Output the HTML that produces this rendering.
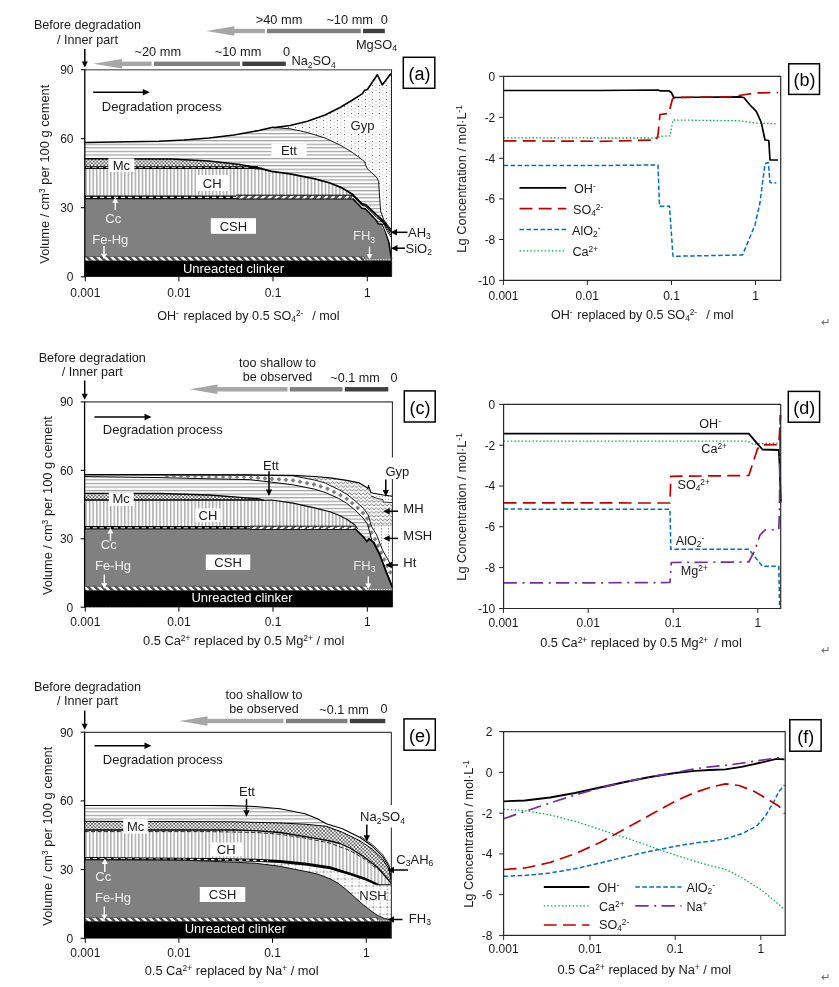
<!DOCTYPE html>
<html><head><meta charset="utf-8"><title>Figure</title>
<style>html,body{margin:0;padding:0;background:#fff;}svg{display:block;}</style></head>
<body>
<svg width="839" height="987" viewBox="0 0 839 987" font-family='"Liberation Sans", sans-serif'>
<defs>
<pattern id="hl" width="8" height="3.57" patternUnits="userSpaceOnUse"><rect width="8" height="3.57" fill="#fff"/><rect y="1.15" width="8" height="0.85" fill="#777"/></pattern>
<pattern id="vl" width="3.52" height="8" patternUnits="userSpaceOnUse"><rect width="3.52" height="8" fill="#fff"/><rect x="1.2" width="0.95" height="8" fill="#7c7c7c"/></pattern>
<pattern id="ck" width="3.57" height="3.57" patternUnits="userSpaceOnUse"><rect width="3.57" height="3.57" fill="#fff"/><rect width="1.785" height="1.785" fill="#666"/><rect x="1.785" y="1.785" width="1.785" height="1.785" fill="#666"/></pattern>
<pattern id="dg" width="7" height="7" patternUnits="userSpaceOnUse"><rect width="7" height="7" fill="#fff"/><path d="M-3.5,0 L0,0 L7,7 L3.5,7 Z M3.5,0 L7,0 L10.5,3.5 L10.5,7 Z M-3.5,3.5 L0,7 L-3.5,7 Z" fill="#4c4c4c"/></pattern>
<pattern id="dg2" width="7" height="7" patternUnits="userSpaceOnUse" patternTransform="scale(-1,1)"><rect width="7" height="7" fill="#fff"/><path d="M-3.5,0 L0,0 L7,7 L3.5,7 Z M3.5,0 L7,0 L10.5,3.5 L10.5,7 Z M-3.5,3.5 L0,7 L-3.5,7 Z" fill="#555"/></pattern>
<pattern id="dt" width="7" height="7" patternUnits="userSpaceOnUse"><rect width="7" height="7" fill="#fff"/><rect x="1" y="1" width="1" height="1" fill="#6a6a6a"/><rect x="4.5" y="2.75" width="1" height="1" fill="#a8a8a8"/><rect x="1" y="4.5" width="1" height="1" fill="#a8a8a8"/><rect x="4.5" y="6.2" width="1" height="0.8" fill="#bbb"/><rect x="4.5" y="0" width="1" height="0.3" fill="#bbb"/></pattern>
<pattern id="dt2" width="3" height="3" patternUnits="userSpaceOnUse"><rect width="3" height="3" fill="#fff"/><rect x="1" y="1" width="1" height="1" fill="#aaa"/></pattern>
<pattern id="zz" width="4.4" height="3.7" patternUnits="userSpaceOnUse"><rect width="4.4" height="3.7" fill="#fff"/><path d="M-0.2,3.1 L2.2,0.7 L4.6,3.1" fill="none" stroke="#5e5e5e" stroke-width="0.85"/></pattern>
<pattern id="dm" width="5.2" height="5.2" patternUnits="userSpaceOnUse"><rect width="5.2" height="5.2" fill="#fff"/><path d="M2.6,0.3 L4.9,2.6 L2.6,4.9 L0.3,2.6 Z" fill="#808080"/></pattern>
<pattern id="ms" width="7" height="3" patternUnits="userSpaceOnUse"><rect width="7" height="3" fill="#fff"/><rect x="3" y="0" width="1" height="1.5" fill="#9a9a9a"/></pattern>
<pattern id="gr" x="6.15" y="4.35" width="7.05" height="7.05" patternUnits="userSpaceOnUse"><rect width="7.05" height="7.05" fill="#fff"/><path d="M0,0.5 H7.05 M0.5,0 V7.05" stroke="#999" stroke-width="0.9" stroke-dasharray="1.6 1.4"/></pattern>
<pattern id="cc" width="7" height="3" patternUnits="userSpaceOnUse"><rect width="7" height="3" fill="#000"/><rect x="0.5" y="1" width="4.5" height="1" fill="#fff"/></pattern>
</defs>
<rect width="839" height="987" fill="#fff"/>
<polygon points="84.8,142.5 159.0,141.3 184.0,140.0 209.0,138.0 234.0,135.0 259.0,130.5 272.8,127.3 274.5,127.6 290.0,125.5 307.5,121.3 325.0,115.0 340.0,107.5 352.5,100.0 362.5,93.6 364.6,90.2 367.4,89.5 377.3,74.7 382.3,84.9 390.5,74.0 391.6,75.5 391.6,276.8 84.8,276.8" fill="url(#dt)" stroke="none" stroke-width="1" />
<polygon points="84.8,142.5 159.0,141.3 184.0,140.0 209.0,138.0 234.0,135.0 259.0,130.5 272.8,127.3 274.5,127.6 290.0,128.8 307.5,132.5 325.0,138.0 340.0,145.0 352.5,152.5 362.5,160.0 364.6,161.8 367.0,168.4 376.8,177.5 378.6,181.5 380.6,211.0 383.8,220.0 391.6,230.0 391.6,276.8 84.8,276.8" fill="url(#hl)" stroke="none" stroke-width="1" />
<polygon points="84.8,158.8 171.5,159.0 209.0,161.0 240.0,164.5 262.0,168.5 262.0,168.8 262.0,276.8 84.8,276.8" fill="url(#ck)" stroke="none" stroke-width="1" />
<polygon points="84.8,168.3 196.5,168.3 255.0,168.3 262.0,168.8 271.5,171.3 290.0,173.8 315.0,178.8 330.0,183.0 341.3,187.6 352.0,194.0 362.0,204.0 365.5,204.6 376.8,215.2 383.2,221.0 391.6,232.3 391.6,276.8 84.8,276.8" fill="url(#vl)" stroke="none" stroke-width="1" />
<polygon points="84.8,195.6 352.5,195.6 362.0,205.5 365.5,206.2 376.8,217.5 383.2,222.5 391.6,236.0 391.6,276.8 84.8,276.8" fill="#fff" stroke="none" stroke-width="1" />
<polygon points="84.8,198.6 352.7,198.6 362.0,208.2 365.5,208.9 376.8,221.0 378.2,223.8 383.2,224.5 388.9,242.2 390.3,252.0 391.6,259.2 391.6,276.8 84.8,276.8" fill="#808080" stroke="none" stroke-width="1" />
<rect x="84.8" y="256.6" width="279.2" height="4.1" fill="url(#dg)" stroke="none" stroke-width="1"/>
<polyline points="84.8,256.6 364.0,256.6" fill="none" stroke="#555" stroke-width="0.8" stroke-linejoin="round" />
<polyline points="364.0,256.6 364.0,259.5" fill="none" stroke="#555" stroke-width="0.8" stroke-linejoin="round" />
<polyline points="364.0,259.7 391.6,259.7" fill="none" stroke="#ddd" stroke-width="1" stroke-dasharray="1.5 1.2" stroke-linejoin="round" />
<rect x="84.8" y="260.7" width="307.3" height="16.1" fill="#000" stroke="none" stroke-width="1"/>
<polyline points="274.5,127.6 290.0,128.8 307.5,132.5 325.0,138.0 340.0,145.0 352.5,152.5 362.5,160.0 364.6,161.8 367.0,168.4 376.8,177.5 378.6,181.5 380.6,211.0 383.8,220.0 391.6,230.0" fill="none" stroke="#000" stroke-width="0.9" stroke-linejoin="round" />
<polyline points="84.8,158.8 171.5,159.0 209.0,161.0 240.0,164.5 262.0,168.5" fill="none" stroke="#000" stroke-width="1.4" stroke-linejoin="round" />
<polyline points="84.8,167.6 258.0,167.6" fill="none" stroke="#000" stroke-width="2.7" stroke-linejoin="round" />
<polyline points="85.8,167.6 250.0,167.6" fill="none" stroke="#fff" stroke-width="0.8" stroke-dasharray="4.2 2.4" stroke-linejoin="round" />
<polyline points="255.0,168.3 262.0,168.8 271.5,171.3 290.0,173.8 315.0,178.8 330.0,183.0 341.3,187.6 352.0,194.0 362.0,204.0 365.5,204.6 376.8,215.2 383.2,221.0 391.6,232.3" fill="none" stroke="#000" stroke-width="1.8" stroke-linejoin="round" />
<polyline points="84.8,197.3 236.0,197.3" fill="none" stroke="#000" stroke-width="3.8" stroke-linejoin="round" />
<polyline points="85.8,197.4 236.0,197.4" fill="none" stroke="#fff" stroke-width="1.1" stroke-dasharray="4.4 2.6" stroke-linejoin="round" />
<polygon points="236.0,195.2 352.5,195.2 352.5,199.0 236.0,199.0" fill="url(#dg2)" stroke="none" stroke-width="1" />
<polyline points="236.0,195.2 352.5,195.2" fill="none" stroke="#000" stroke-width="1" stroke-linejoin="round" />
<polyline points="236.0,199.0 352.7,199.0" fill="none" stroke="#000" stroke-width="1" stroke-linejoin="round" />
<polyline points="352.5,195.6 362.0,205.5 365.5,206.2 376.8,217.5 383.2,222.5 391.6,236.0" fill="none" stroke="#000" stroke-width="1.0" stroke-linejoin="round" />
<polyline points="352.7,198.6 362.0,208.2 365.5,208.9 376.8,221.0 378.2,223.8 383.2,224.5 388.9,242.2 390.3,252.0 391.6,259.2" fill="none" stroke="#000" stroke-width="1.6" stroke-linejoin="round" />
<polyline points="378.2,221.5 383.2,222.0 387.0,231.0 391.6,238.0" fill="none" stroke="#000" stroke-width="0.8" stroke-linejoin="round" />
<polyline points="383.2,224.5 388.0,236.0 391.6,246.0" fill="none" stroke="#fff" stroke-width="0.9" stroke-linejoin="round" />
<polyline points="84.8,142.5 159.0,141.3 184.0,140.0 209.0,138.0 234.0,135.0 259.0,130.5 272.8,127.3 274.5,127.6 290.0,125.5 307.5,121.3 325.0,115.0 340.0,107.5 352.5,100.0 362.5,93.6 364.6,90.2 367.4,89.5 377.3,74.7 382.3,84.9 390.5,74.0 391.6,75.5" fill="none" stroke="#000" stroke-width="1.6" stroke-linejoin="round" />
<polyline points="84.8,69.8 392.1,69.8" fill="none" stroke="#787878" stroke-width="1.5" stroke-linejoin="round" />
<polyline points="391.5,69.7 391.5,276.8" fill="none" stroke="#222" stroke-width="1.0" stroke-linejoin="round" />
<polyline points="84.8,69.2 84.8,277.3" fill="none" stroke="#000" stroke-width="1.3" stroke-linejoin="round" />
<rect x="108.4" y="158.4" width="26.0" height="13.5" fill="#fff" stroke="none" stroke-width="1"/>
<text x="121.4" y="169.7" font-size="13.00" text-anchor="middle" fill="#1a1a1a" >Mc</text>
<rect x="196.5" y="175.0" width="31.5" height="16.0" fill="#fff" stroke="none" stroke-width="1"/>
<text x="212.2" y="187.7" font-size="13.00" text-anchor="middle" fill="#1a1a1a" >CH</text>
<rect x="210.8" y="218.2" width="45.2" height="15.6" fill="#fff" stroke="none" stroke-width="1"/>
<text x="233.4" y="230.7" font-size="13.00" text-anchor="middle" fill="#1a1a1a" >CSH</text>
<rect x="271.5" y="143.5" width="35.0" height="14.0" fill="#fff" stroke="none" stroke-width="1"/>
<text x="289.0" y="155.2" font-size="13.00" text-anchor="middle" fill="#1a1a1a" >Ett</text>
<rect x="345.0" y="118.0" width="35.0" height="14.0" fill="#fff" stroke="none" stroke-width="1"/>
<text x="362.5" y="129.7" font-size="13.00" text-anchor="middle" fill="#1a1a1a" >Gyp</text>
<text x="113.3" y="222.6" font-size="13.00" text-anchor="middle" fill="#f0f0f0" >Cc</text>
<line x1="115.3" y1="210.0" x2="115.3" y2="201.8" stroke="#fff" stroke-width="1.4"/>
<polygon points="115.3,197.3 118.3,202.8 112.3,202.8" fill="#fff" stroke="none" stroke-width="1" />
<text x="110.3" y="243.8" font-size="13.00" text-anchor="middle" fill="#f0f0f0" >Fe-Hg</text>
<line x1="104.0" y1="246.0" x2="104.0" y2="254.7" stroke="#fff" stroke-width="1.4"/>
<polygon points="104.0,259.2 101.0,253.7 107.0,253.7" fill="#fff" stroke="none" stroke-width="1" />
<text x="364.0" y="240.2" font-size="13.00" text-anchor="middle" fill="#e8e8e8" >FH<tspan dy="2.47" font-size="8.58">3</tspan><tspan dy="-2.47" font-size="13.00">&#8203;</tspan></text>
<line x1="369.5" y1="246.5" x2="369.5" y2="255.1" stroke="#fff" stroke-width="1.4"/>
<polygon points="369.5,259.6 366.5,254.1 372.5,254.1" fill="#fff" stroke="none" stroke-width="1" />
<text x="233.5" y="273.4" font-size="13.00" text-anchor="middle" fill="#fff" >Unreacted clinker</text>
<text x="101.8" y="111.4" font-size="13.00" text-anchor="start" fill="#1a1a1a" >Degradation process</text>
<line x1="93.2" y1="92.3" x2="143.8" y2="92.3" stroke="#000" stroke-width="1.6"/>
<polygon points="149.8,92.3 142.8,95.6 142.8,89.0" fill="#000" stroke="none" stroke-width="1" />
<line x1="407.5" y1="232.3" x2="396.0" y2="232.3" stroke="#000" stroke-width="1.5"/>
<polygon points="390.5,232.3 397.0,229.1 397.0,235.5" fill="#000" stroke="none" stroke-width="1" />
<text x="408.0" y="237.0" font-size="13.00" text-anchor="start" fill="#1a1a1a" >AH<tspan dy="2.47" font-size="8.58">3</tspan><tspan dy="-2.47" font-size="13.00">&#8203;</tspan></text>
<line x1="405.0" y1="248.2" x2="396.5" y2="248.2" stroke="#000" stroke-width="1.5"/>
<polygon points="391.0,248.2 397.5,245.0 397.5,251.4" fill="#000" stroke="none" stroke-width="1" />
<text x="405.5" y="253.0" font-size="13.00" text-anchor="start" fill="#1a1a1a" >SiO<tspan dy="2.47" font-size="8.58">2</tspan><tspan dy="-2.47" font-size="13.00">&#8203;</tspan></text>
<text x="87.5" y="29.4" font-size="12.60" text-anchor="middle" fill="#1a1a1a" >Before degradation</text>
<text x="87.5" y="43.5" font-size="12.60" text-anchor="middle" fill="#1a1a1a" >/ Inner part</text>
<line x1="84.8" y1="49.0" x2="84.8" y2="62.6" stroke="#000" stroke-width="1.5"/>
<polygon points="84.8,67.6 81.8,61.6 87.8,61.6" fill="#000" stroke="none" stroke-width="1" />
<polygon points="93.4,63.8 122.0,59.1 122.0,68.5" fill="#a6a6a6" stroke="none" stroke-width="1" />
<rect x="121.5" y="61.6" width="30.1" height="4.4" fill="#a6a6a6" stroke="none" stroke-width="1"/>
<rect x="154.0" y="61.6" width="86.0" height="4.4" fill="#7f7f7f" stroke="none" stroke-width="1"/>
<rect x="242.3" y="61.6" width="43.5" height="4.4" fill="#404040" stroke="none" stroke-width="1"/>
<text x="157.8" y="56.0" font-size="12.80" text-anchor="middle" fill="#1a1a1a" >~20 mm</text>
<text x="238.0" y="56.0" font-size="12.80" text-anchor="middle" fill="#1a1a1a" >~10 mm</text>
<text x="286.5" y="56.0" font-size="12.80" text-anchor="middle" fill="#1a1a1a" >0</text>
<text x="291.5" y="65.4" font-size="12.80" text-anchor="start" fill="#1a1a1a" >Na<tspan dy="2.43" font-size="8.45">2</tspan><tspan dy="-2.43" font-size="12.80">&#8203;</tspan>SO<tspan dy="2.43" font-size="8.45">4</tspan><tspan dy="-2.43" font-size="12.80">&#8203;</tspan></text>
<polygon points="206.3,31.0 234.3,26.3 234.3,35.7" fill="#a6a6a6" stroke="none" stroke-width="1" />
<rect x="234.0" y="28.8" width="30.9" height="4.4" fill="#a6a6a6" stroke="none" stroke-width="1"/>
<rect x="266.9" y="28.8" width="93.9" height="4.4" fill="#7f7f7f" stroke="none" stroke-width="1"/>
<rect x="363.0" y="28.8" width="21.8" height="4.4" fill="#404040" stroke="none" stroke-width="1"/>
<text x="279.0" y="23.6" font-size="12.80" text-anchor="middle" fill="#1a1a1a" >&gt;40 mm</text>
<text x="349.7" y="23.6" font-size="12.80" text-anchor="middle" fill="#1a1a1a" >~10 mm</text>
<text x="384.2" y="23.6" font-size="12.80" text-anchor="middle" fill="#1a1a1a" >0</text>
<text x="355.9" y="48.6" font-size="12.80" text-anchor="start" fill="#1a1a1a" >MgSO<tspan dy="2.43" font-size="8.45">4</tspan><tspan dy="-2.43" font-size="12.80">&#8203;</tspan></text>
<rect x="403.3" y="57.3" width="31.5" height="31.0" fill="#fff" stroke="#000" stroke-width="1.5"/>
<text x="419.4" y="80.0" font-size="18.00" text-anchor="middle" fill="#000" >(a)</text>
<polyline points="80.8,69.7 84.8,69.7" fill="none" stroke="#000" stroke-width="1" stroke-linejoin="round" />
<text x="73.5" y="74.0" font-size="12.00" text-anchor="end" fill="#1a1a1a" >90</text>
<polyline points="80.8,138.7 84.8,138.7" fill="none" stroke="#000" stroke-width="1" stroke-linejoin="round" />
<text x="73.5" y="143.0" font-size="12.00" text-anchor="end" fill="#1a1a1a" >60</text>
<polyline points="80.8,207.7 84.8,207.7" fill="none" stroke="#000" stroke-width="1" stroke-linejoin="round" />
<text x="73.5" y="212.0" font-size="12.00" text-anchor="end" fill="#1a1a1a" >30</text>
<polyline points="80.8,276.8 84.8,276.8" fill="none" stroke="#000" stroke-width="1" stroke-linejoin="round" />
<text x="73.5" y="281.1" font-size="12.00" text-anchor="end" fill="#1a1a1a" >0</text>
<polyline points="85.3,276.8 85.3,281.3" fill="none" stroke="#000" stroke-width="1" stroke-linejoin="round" />
<text x="85.3" y="297.3" font-size="12.00" text-anchor="middle" fill="#1a1a1a" >0.001</text>
<polyline points="178.9,276.8 178.9,281.3" fill="none" stroke="#000" stroke-width="1" stroke-linejoin="round" />
<text x="178.9" y="297.3" font-size="12.00" text-anchor="middle" fill="#1a1a1a" >0.01</text>
<polyline points="273.0,276.8 273.0,281.3" fill="none" stroke="#000" stroke-width="1" stroke-linejoin="round" />
<text x="273.0" y="297.3" font-size="12.00" text-anchor="middle" fill="#1a1a1a" >0.1</text>
<polyline points="367.3,276.8 367.3,281.3" fill="none" stroke="#000" stroke-width="1" stroke-linejoin="round" />
<text x="367.3" y="297.3" font-size="12.00" text-anchor="middle" fill="#1a1a1a" >1</text>
<text transform="translate(48.9 174.2) rotate(-90)" font-size="12.85" text-anchor="middle" fill="#1a1a1a">Volume / cm<tspan dy="-3.98" font-size="8.48">3</tspan><tspan dy="3.98" font-size="12.85">&#8203;</tspan> per 100 g cement</text>
<text x="248.4" y="319.5" font-size="12.60" text-anchor="middle" fill="#1a1a1a" >OH<tspan dy="-3.91" font-size="8.32">-</tspan><tspan dy="3.91" font-size="12.60">&#8203;</tspan><tspan dx="1.2">&#8203;</tspan> replaced by 0.5 SO<tspan dy="2.39" font-size="8.32">4</tspan><tspan dy="-2.39" font-size="12.60">&#8203;</tspan><tspan dy="-3.91" font-size="8.32">2-</tspan><tspan dy="3.91" font-size="12.60">&#8203;</tspan><tspan dx="5.5">&#8203;</tspan> / mol</text>
<polyline points="503.6,137.8 600.0,138.0 657.5,138.0 660.0,136.3 670.0,135.8 673.0,120.0 740.0,120.8 755.0,123.0 776.3,123.8" fill="none" stroke="#00b050" stroke-width="1.3" stroke-dasharray="1.5 2.1" stroke-linejoin="round" />
<polyline points="503.6,165.6 600.0,165.5 658.0,165.0 659.5,206.3 669.5,206.3 673.0,256.3 742.5,255.0 755.0,225.0 760.0,202.5 765.0,163.8 768.3,162.5 770.0,182.5 776.3,183.0" fill="none" stroke="#0070c0" stroke-width="1.5" stroke-dasharray="4.6 2.4" stroke-linejoin="round" />
<polyline points="503.6,90.5 600.0,90.5 657.5,90.0 660.0,90.8 668.8,90.8 671.3,92.5 673.8,97.5 740.0,96.8 743.8,97.5 750.0,105.0 756.3,111.3 761.3,122.5 765.0,140.0 768.8,140.5 770.0,160.0 778.0,160.0" fill="none" stroke="#000" stroke-width="1.7" stroke-linejoin="round" />
<polyline points="503.6,140.8 600.0,141.3 656.3,140.0 658.0,135.0 660.0,114.5 665.0,113.8 668.8,113.3 672.5,98.8 675.0,97.5 730.0,96.8 742.5,95.0 755.0,93.0 778.0,92.5" fill="none" stroke="#c00000" stroke-width="1.7" stroke-dasharray="12.9 6.3" stroke-linejoin="round" />
<polyline points="519.5,187.9 566.3,187.9" fill="none" stroke="#000" stroke-width="1.7" stroke-linejoin="round" />
<text x="574.0" y="192.5" font-size="12.60" text-anchor="start" fill="#1a1a1a" >OH<tspan dy="-3.91" font-size="8.32">-</tspan><tspan dy="3.91" font-size="12.60">&#8203;</tspan></text>
<polyline points="519.5,208.6 566.3,208.6" fill="none" stroke="#c00000" stroke-width="1.7" stroke-dasharray="12.9 6.3" stroke-linejoin="round" />
<text x="573.0" y="213.5" font-size="12.60" text-anchor="start" fill="#1a1a1a" >SO<tspan dy="2.39" font-size="8.32">4</tspan><tspan dy="-2.39" font-size="12.60">&#8203;</tspan><tspan dy="-3.91" font-size="8.32">2-</tspan><tspan dy="3.91" font-size="12.60">&#8203;</tspan></text>
<polyline points="519.5,229.6 566.3,229.6" fill="none" stroke="#0070c0" stroke-width="1.5" stroke-dasharray="4.6 2.4" stroke-linejoin="round" />
<text x="572.0" y="234.5" font-size="12.60" text-anchor="start" fill="#1a1a1a" >AlO<tspan dy="2.39" font-size="8.32">2</tspan><tspan dy="-2.39" font-size="12.60">&#8203;</tspan><tspan dy="-3.91" font-size="8.32">-</tspan><tspan dy="3.91" font-size="12.60">&#8203;</tspan></text>
<polyline points="519.5,250.8 566.3,250.8" fill="none" stroke="#00b050" stroke-width="1.3" stroke-dasharray="1.5 2.1" stroke-linejoin="round" />
<text x="572.5" y="255.5" font-size="12.60" text-anchor="start" fill="#1a1a1a" >Ca<tspan dy="-3.91" font-size="8.32">2+</tspan><tspan dy="3.91" font-size="12.60">&#8203;</tspan></text>
<rect x="788.7" y="63.8" width="30.8" height="30.6" fill="#fff" stroke="#000" stroke-width="1.5"/>
<text x="804.4" y="86.1" font-size="18.00" text-anchor="middle" fill="#000" >(b)</text>
<polyline points="503.6,76.3 780.7,76.3 780.7,280.4 503.6,280.4 503.6,76.3 780.7,76.3" fill="none" stroke="#2a2a2a" stroke-width="1.2" stroke-linejoin="round" />
<polyline points="499.1,76.3 503.6,76.3" fill="none" stroke="#262626" stroke-width="1" stroke-linejoin="round" />
<text x="495.3" y="80.6" font-size="12.00" text-anchor="end" fill="#1a1a1a" >0</text>
<polyline points="499.1,117.3 503.6,117.3" fill="none" stroke="#262626" stroke-width="1" stroke-linejoin="round" />
<text x="495.3" y="121.6" font-size="12.00" text-anchor="end" fill="#1a1a1a" >-2</text>
<polyline points="499.1,158.3 503.6,158.3" fill="none" stroke="#262626" stroke-width="1" stroke-linejoin="round" />
<text x="495.3" y="162.6" font-size="12.00" text-anchor="end" fill="#1a1a1a" >-4</text>
<polyline points="499.1,198.9 503.6,198.9" fill="none" stroke="#262626" stroke-width="1" stroke-linejoin="round" />
<text x="495.3" y="203.2" font-size="12.00" text-anchor="end" fill="#1a1a1a" >-6</text>
<polyline points="499.1,239.5 503.6,239.5" fill="none" stroke="#262626" stroke-width="1" stroke-linejoin="round" />
<text x="495.3" y="243.8" font-size="12.00" text-anchor="end" fill="#1a1a1a" >-8</text>
<polyline points="499.1,280.4 503.6,280.4" fill="none" stroke="#262626" stroke-width="1" stroke-linejoin="round" />
<text x="495.3" y="284.7" font-size="12.00" text-anchor="end" fill="#1a1a1a" >-10</text>
<polyline points="503.4,280.4 503.4,284.9" fill="none" stroke="#262626" stroke-width="1" stroke-linejoin="round" />
<text x="503.4" y="300.4" font-size="12.00" text-anchor="middle" fill="#1a1a1a" >0.001</text>
<polyline points="587.3,280.4 587.3,284.9" fill="none" stroke="#262626" stroke-width="1" stroke-linejoin="round" />
<text x="587.3" y="300.4" font-size="12.00" text-anchor="middle" fill="#1a1a1a" >0.01</text>
<polyline points="671.5,280.4 671.5,284.9" fill="none" stroke="#262626" stroke-width="1" stroke-linejoin="round" />
<text x="671.5" y="300.4" font-size="12.00" text-anchor="middle" fill="#1a1a1a" >0.1</text>
<polyline points="755.5,280.4 755.5,284.9" fill="none" stroke="#262626" stroke-width="1" stroke-linejoin="round" />
<text x="755.5" y="300.4" font-size="12.00" text-anchor="middle" fill="#1a1a1a" >1</text>
<text transform="translate(466.0 178.8) rotate(-90)" font-size="12.80" text-anchor="middle" fill="#1a1a1a">Lg Concentration / mol·L<tspan dy="-3.97" font-size="8.45">-1</tspan><tspan dy="3.97" font-size="12.80">&#8203;</tspan></text>
<text x="642.2" y="318.8" font-size="12.60" text-anchor="middle" fill="#1a1a1a" >OH<tspan dy="-3.91" font-size="8.32">-</tspan><tspan dy="3.91" font-size="12.60">&#8203;</tspan><tspan dx="1.2">&#8203;</tspan> replaced by 0.5 SO<tspan dy="2.39" font-size="8.32">4</tspan><tspan dy="-2.39" font-size="12.60">&#8203;</tspan><tspan dy="-3.91" font-size="8.32">2-</tspan><tspan dy="3.91" font-size="12.60">&#8203;</tspan><tspan dx="5.5">&#8203;</tspan> / mol</text>
<text x="825.6" y="325.9" font-size="11.50" text-anchor="middle" fill="#6e6e6e" font-family="DejaVu Sans, sans-serif">↵</text>
<polygon points="84.6,474.6 250.0,474.9 292.9,475.4 314.4,476.5 330.0,477.9 346.7,480.4 359.2,482.9 365.8,486.7 367.9,488.8 368.5,485.4 370.8,492.5 373.3,493.3 383.3,495.0 392.4,496.3 392.4,607.2 84.6,607.2" fill="url(#zz)" stroke="none" stroke-width="1" />
<polygon points="370.8,492.5 373.3,493.3 383.3,495.0 392.4,496.3 392.4,502.5 383.3,502.1 382.9,499.6 376.7,498.3 370.8,495.8" fill="url(#dt2)" stroke="none" stroke-width="1" />
<polygon points="370.5,525.3 392.4,525.3 392.4,607.2 370.5,607.2" fill="url(#ms)" stroke="none" stroke-width="1" />
<polygon points="84.6,474.8 250.0,475.1 292.9,475.8 303.6,477.9 314.4,480.0 325.1,482.9 330.0,485.5 338.3,489.4 346.7,494.2 355.0,500.8 363.3,508.3 368.3,515.0 370.0,521.7 371.7,526.7 376.7,535.0 382.5,550.0 392.4,567.5 392.4,607.2 84.6,607.2" fill="#fff" stroke="none" stroke-width="1" />
<polygon points="167.0,475.3 169.4,476.4 167.0,477.4 164.6,476.4" fill="#808080" stroke="none" stroke-width="1" />
<polygon points="174.0,475.3 176.4,476.5 174.0,477.6 171.6,476.5" fill="#808080" stroke="none" stroke-width="1" />
<polygon points="181.0,475.3 183.4,476.6 181.0,477.8 178.6,476.6" fill="#808080" stroke="none" stroke-width="1" />
<polygon points="188.0,475.3 190.4,476.6 188.0,477.9 185.6,476.6" fill="#808080" stroke="none" stroke-width="1" />
<polygon points="195.0,475.4 197.4,476.7 195.0,478.1 192.6,476.7" fill="#808080" stroke="none" stroke-width="1" />
<polygon points="202.0,475.4 204.4,476.8 202.0,478.3 199.6,476.8" fill="#808080" stroke="none" stroke-width="1" />
<polygon points="209.0,475.4 211.4,476.9 209.0,478.4 206.6,476.9" fill="#808080" stroke="none" stroke-width="1" />
<polygon points="216.0,475.4 218.4,477.0 216.0,478.6 213.6,477.0" fill="#808080" stroke="none" stroke-width="1" />
<polygon points="223.0,475.4 225.4,477.1 223.0,478.7 220.6,477.1" fill="#808080" stroke="none" stroke-width="1" />
<polygon points="230.0,475.4 232.4,477.1 230.0,478.9 227.6,477.1" fill="#808080" stroke="none" stroke-width="1" />
<polygon points="237.0,475.4 239.4,477.2 237.0,479.0 234.6,477.2" fill="#808080" stroke="none" stroke-width="1" />
<polygon points="244.0,475.4 246.4,477.3 244.0,479.2 241.6,477.3" fill="#808080" stroke="none" stroke-width="1" />
<polygon points="251.0,475.5 253.4,477.5 251.0,479.5 248.6,477.5" fill="#808080" stroke="none" stroke-width="1" />
<polygon points="258.0,475.6 260.4,477.9 258.0,480.3 255.6,477.9" fill="#808080" stroke="none" stroke-width="1" />
<polygon points="265.0,476.0 267.4,478.4 265.0,480.8 262.6,478.4" fill="#808080" stroke="none" stroke-width="1" />
<polygon points="272.0,476.5 274.4,478.9 272.0,481.3 269.6,478.9" fill="#808080" stroke="none" stroke-width="1" />
<polygon points="279.0,476.9 281.4,479.3 279.0,481.7 276.6,479.3" fill="#808080" stroke="none" stroke-width="1" />
<polygon points="286.0,477.4 288.4,479.8 286.0,482.2 283.6,479.8" fill="#808080" stroke="none" stroke-width="1" />
<polygon points="293.0,477.9 295.4,480.3 293.0,482.7 290.6,480.3" fill="#808080" stroke="none" stroke-width="1" />
<polygon points="300.0,479.3 302.4,481.7 300.0,484.1 297.6,481.7" fill="#808080" stroke="none" stroke-width="1" />
<polygon points="307.0,480.7 309.4,483.1 307.0,485.5 304.6,483.1" fill="#808080" stroke="none" stroke-width="1" />
<polygon points="314.0,482.1 316.4,484.5 314.0,486.9 311.6,484.5" fill="#808080" stroke="none" stroke-width="1" />
<polygon points="320.8,484.0 323.1,486.4 320.8,488.8 318.4,486.4" fill="#808080" stroke="none" stroke-width="1" />
<polygon points="327.5,486.4 329.9,488.8 327.5,491.2 325.1,488.8" fill="#808080" stroke="none" stroke-width="1" />
<polygon points="334.0,489.5 336.4,491.9 334.0,494.3 331.6,491.9" fill="#808080" stroke="none" stroke-width="1" />
<polygon points="340.5,492.7 342.9,495.1 340.5,497.5 338.1,495.1" fill="#808080" stroke="none" stroke-width="1" />
<polygon points="346.8,496.4 349.1,498.8 346.8,501.2 344.4,498.8" fill="#808080" stroke="none" stroke-width="1" />
<polygon points="352.2,500.8 354.6,503.2 352.2,505.6 349.9,503.2" fill="#808080" stroke="none" stroke-width="1" />
<polygon points="357.8,505.6 360.1,508.0 357.8,510.4 355.4,508.0" fill="#808080" stroke="none" stroke-width="1" />
<polygon points="363.0,510.6 365.4,513.0 363.0,515.4 360.6,513.0" fill="#808080" stroke="none" stroke-width="1" />
<polygon points="367.2,516.3 369.6,518.7 367.2,521.1 364.9,518.7" fill="#808080" stroke="none" stroke-width="1" />
<polygon points="369.5,523.2 371.9,525.6 369.5,528.0 367.1,525.6" fill="#808080" stroke="none" stroke-width="1" />
<polygon points="371.5,530.3 373.9,532.7 371.5,535.1 369.1,532.7" fill="#808080" stroke="none" stroke-width="1" />
<polygon points="375.0,536.8 377.4,539.2 375.0,541.6 372.6,539.2" fill="#808080" stroke="none" stroke-width="1" />
<polygon points="378.2,543.2 380.6,545.6 378.2,548.0 375.9,545.6" fill="#808080" stroke="none" stroke-width="1" />
<polygon points="381.2,550.3 383.6,552.7 381.2,555.1 378.9,552.7" fill="#808080" stroke="none" stroke-width="1" />
<polygon points="384.2,557.1 386.6,559.5 384.2,561.9 381.9,559.5" fill="#808080" stroke="none" stroke-width="1" />
<polygon points="387.2,563.5 389.6,565.9 387.2,568.3 384.9,565.9" fill="#808080" stroke="none" stroke-width="1" />
<polygon points="390.2,569.9 392.6,572.3 390.2,574.7 387.9,572.3" fill="#808080" stroke="none" stroke-width="1" />
<polygon points="84.6,476.6 159.0,477.6 209.0,478.8 234.0,479.3 250.0,479.7 271.5,482.2 292.9,484.8 314.4,489.1 325.1,492.4 330.0,494.6 338.3,498.3 346.7,503.3 355.0,510.0 363.3,518.3 367.5,524.2 370.0,533.3 371.7,540.0 380.0,555.5 386.3,571.0 392.4,586.3 392.4,607.2 84.6,607.2" fill="url(#hl)" stroke="none" stroke-width="1" />
<polygon points="84.6,493.3 159.0,493.5 209.0,495.0 259.0,498.8 264.0,500.3 264.0,607.2 84.6,607.2" fill="url(#ck)" stroke="none" stroke-width="1" />
<polygon points="84.6,500.3 262.0,500.3 271.5,500.0 292.9,503.1 314.4,507.9 330.0,511.7 338.3,515.0 346.7,519.2 355.0,525.0 357.5,528.8 357.5,607.2 357.5,607.2 84.6,607.2" fill="url(#vl)" stroke="none" stroke-width="1" />
<polygon points="84.6,526.3 355.8,526.3 363.3,536.9 367.0,541.6 368.8,538.8 373.8,542.5 380.0,555.0 386.3,572.5 392.4,587.5 392.4,607.2 84.6,607.2" fill="#fff" stroke="none" stroke-width="1" />
<polygon points="84.6,529.3 355.8,529.3 363.3,536.9 367.0,541.6 368.8,538.8 373.8,542.5 380.0,555.0 386.3,572.5 392.4,587.5 392.4,607.2 84.6,607.2" fill="#808080" stroke="none" stroke-width="1" />
<rect x="84.6" y="586.3" width="282.7" height="4.2" fill="url(#dg)" stroke="none" stroke-width="1"/>
<polyline points="84.6,586.3 367.3,586.3 367.3,589.3" fill="none" stroke="#555" stroke-width="0.8" stroke-linejoin="round" />
<polyline points="367.3,589.5 392.4,589.5" fill="none" stroke="#ddd" stroke-width="1" stroke-dasharray="1.5 1.2" stroke-linejoin="round" />
<rect x="84.6" y="590.5" width="308.3" height="16.7" fill="#000" stroke="none" stroke-width="1"/>
<polyline points="370.8,495.8 376.7,498.3 382.9,499.6 383.3,502.1 392.4,502.5" fill="none" stroke="#000" stroke-width="0.8" stroke-linejoin="round" />
<polyline points="370.5,525.3 392.4,525.3" fill="none" stroke="#777" stroke-width="0.8" stroke-dasharray="1 1" stroke-linejoin="round" />
<polyline points="84.6,474.8 250.0,475.1 292.9,475.8 303.6,477.9 314.4,480.0 325.1,482.9 330.0,485.5 338.3,489.4 346.7,494.2 355.0,500.8 363.3,508.3 368.3,515.0 370.0,521.7 371.7,526.7 376.7,535.0 382.5,550.0 392.4,567.5" fill="none" stroke="#000" stroke-width="0.9" stroke-linejoin="round" />
<polyline points="84.6,476.6 159.0,477.6 209.0,478.8 234.0,479.3 250.0,479.7 271.5,482.2 292.9,484.8 314.4,489.1 325.1,492.4 330.0,494.6 338.3,498.3 346.7,503.3 355.0,510.0 363.3,518.3 367.5,524.2 370.0,533.3 371.7,540.0 380.0,555.5 386.3,571.0 392.4,586.3" fill="none" stroke="#000" stroke-width="1.0" stroke-linejoin="round" />
<polyline points="84.6,493.3 159.0,493.5 209.0,495.0 259.0,498.8 264.0,500.3" fill="none" stroke="#000" stroke-width="1.3" stroke-linejoin="round" />
<polyline points="84.6,500.0 262.0,500.0" fill="none" stroke="#000" stroke-width="1.6" stroke-linejoin="round" />
<polyline points="262.0,500.3 271.5,500.0 292.9,503.1 314.4,507.9 330.0,511.7 338.3,515.0 346.7,519.2 355.0,525.0 357.5,528.8" fill="none" stroke="#000" stroke-width="1.1" stroke-linejoin="round" />
<polyline points="84.6,527.8 250.0,527.8" fill="none" stroke="#000" stroke-width="3.4" stroke-linejoin="round" />
<polyline points="85.6,527.8 250.0,527.8" fill="none" stroke="#fff" stroke-width="1.0" stroke-dasharray="4.4 2.6" stroke-linejoin="round" />
<polygon points="250.0,526.2 356.3,526.2 356.3,529.4 250.0,529.4" fill="url(#dg2)" stroke="none" stroke-width="1" />
<polyline points="250.0,526.2 356.3,526.2" fill="none" stroke="#000" stroke-width="0.9" stroke-linejoin="round" />
<polyline points="250.0,529.5 356.3,529.5" fill="none" stroke="#000" stroke-width="0.9" stroke-linejoin="round" />
<polyline points="355.8,529.3 363.3,536.9 367.0,541.6 368.8,538.8 373.8,542.5 380.0,555.0 386.3,572.5 392.4,587.5" fill="none" stroke="#000" stroke-width="1.7" stroke-linejoin="round" />
<polyline points="84.6,474.6 250.0,474.9 292.9,475.4 314.4,476.5 330.0,477.9 346.7,480.4 359.2,482.9 365.8,486.7 367.9,488.8 368.5,485.4 370.8,492.5 373.3,493.3 383.3,495.0 392.4,496.3" fill="none" stroke="#000" stroke-width="1.1" stroke-linejoin="round" />
<polyline points="84.6,401.9 392.9,401.9" fill="none" stroke="#757575" stroke-width="1.6" stroke-linejoin="round" />
<polyline points="392.4,401.9 392.4,457.5" fill="none" stroke="#222" stroke-width="1.0" stroke-linejoin="round" />
<polyline points="392.4,479.0 392.4,607.2" fill="none" stroke="#222" stroke-width="1.0" stroke-linejoin="round" />
<polyline points="84.6,401.4 84.6,607.7" fill="none" stroke="#000" stroke-width="1.3" stroke-linejoin="round" />
<rect x="108.8" y="492.4" width="24.8" height="13.4" fill="#fff" stroke="none" stroke-width="1"/>
<text x="121.2" y="502.6" font-size="13.00" text-anchor="middle" fill="#1a1a1a" >Mc</text>
<rect x="195.3" y="508.4" width="25.2" height="13.8" fill="#fff" stroke="none" stroke-width="1"/>
<text x="207.9" y="520.0" font-size="13.00" text-anchor="middle" fill="#1a1a1a" >CH</text>
<rect x="205.8" y="554.6" width="44.5" height="15.4" fill="#fff" stroke="none" stroke-width="1"/>
<text x="228.1" y="567.0" font-size="13.00" text-anchor="middle" fill="#1a1a1a" >CSH</text>
<text x="108.8" y="548.8" font-size="13.00" text-anchor="middle" fill="#f0f0f0" >Cc</text>
<line x1="110.5" y1="541.0" x2="110.5" y2="532.5" stroke="#fff" stroke-width="1.4"/>
<polygon points="110.5,528.0 113.5,533.5 107.5,533.5" fill="#fff" stroke="none" stroke-width="1" />
<text x="113.0" y="569.6" font-size="13.00" text-anchor="middle" fill="#f0f0f0" >Fe-Hg</text>
<line x1="104.3" y1="574.5" x2="104.3" y2="584.3" stroke="#fff" stroke-width="1.4"/>
<polygon points="104.3,588.8 101.3,583.3 107.3,583.3" fill="#fff" stroke="none" stroke-width="1" />
<text x="364.4" y="570.0" font-size="13.00" text-anchor="middle" fill="#e8e8e8" >FH<tspan dy="2.47" font-size="8.58">3</tspan><tspan dy="-2.47" font-size="13.00">&#8203;</tspan></text>
<line x1="368.3" y1="576.3" x2="368.3" y2="584.5" stroke="#fff" stroke-width="1.4"/>
<polygon points="368.3,589.0 365.3,583.5 371.3,583.5" fill="#fff" stroke="none" stroke-width="1" />
<text x="242.0" y="602.0" font-size="13.00" text-anchor="middle" fill="#fff" >Unreacted clinker</text>
<text x="102.8" y="434.4" font-size="13.00" text-anchor="start" fill="#1a1a1a" >Degradation process</text>
<line x1="94.5" y1="417.0" x2="145.5" y2="417.0" stroke="#000" stroke-width="1.6"/>
<polygon points="151.5,417.0 144.5,420.3 144.5,413.7" fill="#000" stroke="none" stroke-width="1" />
<text x="271.0" y="469.6" font-size="13.00" text-anchor="middle" fill="#1a1a1a" >Ett</text>
<line x1="269.0" y1="471.3" x2="269.0" y2="490.5" stroke="#000" stroke-width="1.5"/>
<polygon points="269.0,496.0 265.8,489.5 272.2,489.5" fill="#000" stroke="none" stroke-width="1" />
<text x="385.5" y="475.9" font-size="13.00" text-anchor="start" fill="#1a1a1a" >Gyp</text>
<line x1="385.8" y1="479.5" x2="385.8" y2="491.0" stroke="#000" stroke-width="1.5"/>
<polygon points="385.8,496.5 382.6,490.0 389.0,490.0" fill="#000" stroke="none" stroke-width="1" />
<line x1="398.0" y1="511.2" x2="388.7" y2="511.2" stroke="#000" stroke-width="1.5"/>
<polygon points="383.2,511.2 389.7,508.0 389.7,514.4" fill="#000" stroke="none" stroke-width="1" />
<text x="403.3" y="513.2" font-size="13.00" text-anchor="start" fill="#1a1a1a" >MH</text>
<line x1="398.0" y1="538.4" x2="388.7" y2="538.4" stroke="#000" stroke-width="1.5"/>
<polygon points="383.2,538.4 389.7,535.2 389.7,541.6" fill="#000" stroke="none" stroke-width="1" />
<text x="403.3" y="540.4" font-size="13.00" text-anchor="start" fill="#1a1a1a" >MSH</text>
<line x1="398.0" y1="565.0" x2="391.0" y2="565.0" stroke="#000" stroke-width="1.5"/>
<polygon points="385.5,565.0 392.0,561.8 392.0,568.2" fill="#000" stroke="none" stroke-width="1" />
<text x="403.3" y="567.4" font-size="13.00" text-anchor="start" fill="#1a1a1a" >Ht</text>
<text x="92.2" y="362.0" font-size="12.60" text-anchor="middle" fill="#1a1a1a" >Before degradation</text>
<text x="92.2" y="376.0" font-size="12.60" text-anchor="middle" fill="#1a1a1a" >/ Inner part</text>
<line x1="84.7" y1="380.5" x2="84.7" y2="394.7" stroke="#000" stroke-width="1.5"/>
<polygon points="84.7,399.7 81.7,393.7 87.7,393.7" fill="#000" stroke="none" stroke-width="1" />
<polygon points="189.5,389.3 217.5,384.6 217.5,394.0" fill="#a6a6a6" stroke="none" stroke-width="1" />
<rect x="217.0" y="387.1" width="70.5" height="4.4" fill="#a6a6a6" stroke="none" stroke-width="1"/>
<rect x="289.8" y="387.1" width="52.7" height="4.4" fill="#7f7f7f" stroke="none" stroke-width="1"/>
<rect x="344.8" y="387.1" width="43.5" height="4.4" fill="#404040" stroke="none" stroke-width="1"/>
<text x="277.5" y="367.4" font-size="12.60" text-anchor="middle" fill="#1a1a1a" >too shallow to</text>
<text x="277.5" y="381.2" font-size="12.60" text-anchor="middle" fill="#1a1a1a" >be observed</text>
<text x="355.0" y="382.0" font-size="12.60" text-anchor="middle" fill="#1a1a1a" >~0.1 mm</text>
<text x="394.0" y="382.0" font-size="12.60" text-anchor="middle" fill="#1a1a1a" >0</text>
<rect x="404.3" y="390.9" width="30.9" height="31.1" fill="#fff" stroke="#000" stroke-width="1.5"/>
<text x="420.1" y="413.7" font-size="18.00" text-anchor="middle" fill="#000" >(c)</text>
<polyline points="80.6,401.9 84.6,401.9" fill="none" stroke="#000" stroke-width="1" stroke-linejoin="round" />
<text x="73.3" y="406.2" font-size="12.00" text-anchor="end" fill="#1a1a1a" >90</text>
<polyline points="80.6,470.3 84.6,470.3" fill="none" stroke="#000" stroke-width="1" stroke-linejoin="round" />
<text x="73.3" y="474.6" font-size="12.00" text-anchor="end" fill="#1a1a1a" >60</text>
<polyline points="80.6,538.8 84.6,538.8" fill="none" stroke="#000" stroke-width="1" stroke-linejoin="round" />
<text x="73.3" y="543.1" font-size="12.00" text-anchor="end" fill="#1a1a1a" >30</text>
<polyline points="80.6,607.2 84.6,607.2" fill="none" stroke="#000" stroke-width="1" stroke-linejoin="round" />
<text x="73.3" y="611.5" font-size="12.00" text-anchor="end" fill="#1a1a1a" >0</text>
<polyline points="85.3,607.2 85.3,611.7" fill="none" stroke="#000" stroke-width="1" stroke-linejoin="round" />
<text x="85.3" y="625.8" font-size="12.00" text-anchor="middle" fill="#1a1a1a" >0.001</text>
<polyline points="178.9,607.2 178.9,611.7" fill="none" stroke="#000" stroke-width="1" stroke-linejoin="round" />
<text x="178.9" y="625.8" font-size="12.00" text-anchor="middle" fill="#1a1a1a" >0.01</text>
<polyline points="273.0,607.2 273.0,611.7" fill="none" stroke="#000" stroke-width="1" stroke-linejoin="round" />
<text x="273.0" y="625.8" font-size="12.00" text-anchor="middle" fill="#1a1a1a" >0.1</text>
<polyline points="367.3,607.2 367.3,611.7" fill="none" stroke="#000" stroke-width="1" stroke-linejoin="round" />
<text x="367.3" y="625.8" font-size="12.00" text-anchor="middle" fill="#1a1a1a" >1</text>
<text transform="translate(51.6 505.6) rotate(-90)" font-size="12.85" text-anchor="middle" fill="#1a1a1a">Volume / cm<tspan dy="-3.98" font-size="8.48">3</tspan><tspan dy="3.98" font-size="12.85">&#8203;</tspan> per 100 g cement</text>
<text x="243.7" y="645.2" font-size="12.85" text-anchor="middle" fill="#1a1a1a" >0.5 Ca<tspan dy="-3.98" font-size="8.48">2+</tspan><tspan dy="3.98" font-size="12.85">&#8203;</tspan> replaced by 0.5 Mg<tspan dy="-3.98" font-size="8.48">2+</tspan><tspan dy="3.98" font-size="12.85">&#8203;</tspan> / mol</text>
<polyline points="503.6,441.1 747.5,441.2 753.8,444.5 757.5,443.8 778.8,443.0" fill="none" stroke="#00b050" stroke-width="1.3" stroke-dasharray="1.5 2.1" stroke-linejoin="round" />
<polyline points="503.6,509.1 670.0,509.3 670.8,549.3 748.8,549.3 762.5,566.3 778.8,566.3 779.6,608.0" fill="none" stroke="#0070c0" stroke-width="1.5" stroke-dasharray="4.6 2.4" stroke-linejoin="round" />
<polyline points="503.6,433.7 748.8,433.7 757.5,443.8 762.5,449.5 778.8,450.0 779.6,465.0 780.8,502.5" fill="none" stroke="#000" stroke-width="1.8" stroke-linejoin="round" />
<polyline points="503.6,582.8 600.0,582.8 670.0,582.5 671.3,562.5 748.8,562.0 755.0,550.0 760.0,535.0 765.0,530.0 778.8,529.5 779.5,510.0 780.2,415.0" fill="none" stroke="#7030a0" stroke-width="1.7" stroke-dasharray="13.3 5.6 2 5.3" stroke-linejoin="round" />
<polyline points="503.6,502.9 670.0,503.0 670.8,476.3 748.8,475.5 757.5,448.8 761.3,445.0 778.8,444.5 780.6,415.0" fill="none" stroke="#c00000" stroke-width="1.7" stroke-dasharray="12.9 6.3" stroke-linejoin="round" />
<text x="699.3" y="427.6" font-size="12.60" text-anchor="start" fill="#1a1a1a" >OH<tspan dy="-3.91" font-size="8.32">-</tspan><tspan dy="3.91" font-size="12.60">&#8203;</tspan></text>
<text x="701.3" y="452.6" font-size="12.60" text-anchor="start" fill="#1a1a1a" >Ca<tspan dy="-3.91" font-size="8.32">2+</tspan><tspan dy="3.91" font-size="12.60">&#8203;</tspan></text>
<text x="677.5" y="488.6" font-size="12.60" text-anchor="start" fill="#1a1a1a" >SO<tspan dy="2.39" font-size="8.32">4</tspan><tspan dy="-2.39" font-size="12.60">&#8203;</tspan><tspan dy="-3.91" font-size="8.32">2+</tspan><tspan dy="3.91" font-size="12.60">&#8203;</tspan></text>
<text x="675.8" y="544.6" font-size="12.60" text-anchor="start" fill="#1a1a1a" >AlO<tspan dy="2.39" font-size="8.32">2</tspan><tspan dy="-2.39" font-size="12.60">&#8203;</tspan><tspan dy="-3.91" font-size="8.32">-</tspan><tspan dy="3.91" font-size="12.60">&#8203;</tspan></text>
<text x="680.8" y="575.0" font-size="12.60" text-anchor="start" fill="#1a1a1a" >Mg<tspan dy="-3.91" font-size="8.32">2+</tspan><tspan dy="3.91" font-size="12.60">&#8203;</tspan></text>
<rect x="788.3" y="391.4" width="31.3" height="30.8" fill="#fff" stroke="#000" stroke-width="1.5"/>
<text x="804.2" y="413.9" font-size="18.00" text-anchor="middle" fill="#000" >(d)</text>
<polyline points="503.6,404.4 780.7,404.4 780.7,608.5 503.6,608.5 503.6,404.4 780.7,404.4" fill="none" stroke="#2a2a2a" stroke-width="1.2" stroke-linejoin="round" />
<polyline points="499.1,404.4 503.6,404.4" fill="none" stroke="#262626" stroke-width="1" stroke-linejoin="round" />
<text x="495.3" y="408.7" font-size="12.00" text-anchor="end" fill="#1a1a1a" >0</text>
<polyline points="499.1,445.2 503.6,445.2" fill="none" stroke="#262626" stroke-width="1" stroke-linejoin="round" />
<text x="495.3" y="449.5" font-size="12.00" text-anchor="end" fill="#1a1a1a" >-2</text>
<polyline points="499.1,486.0 503.6,486.0" fill="none" stroke="#262626" stroke-width="1" stroke-linejoin="round" />
<text x="495.3" y="490.3" font-size="12.00" text-anchor="end" fill="#1a1a1a" >-4</text>
<polyline points="499.1,526.8 503.6,526.8" fill="none" stroke="#262626" stroke-width="1" stroke-linejoin="round" />
<text x="495.3" y="531.1" font-size="12.00" text-anchor="end" fill="#1a1a1a" >-6</text>
<polyline points="499.1,567.6 503.6,567.6" fill="none" stroke="#262626" stroke-width="1" stroke-linejoin="round" />
<text x="495.3" y="571.9" font-size="12.00" text-anchor="end" fill="#1a1a1a" >-8</text>
<polyline points="499.1,608.5 503.6,608.5" fill="none" stroke="#262626" stroke-width="1" stroke-linejoin="round" />
<text x="495.3" y="612.8" font-size="12.00" text-anchor="end" fill="#1a1a1a" >-10</text>
<polyline points="503.4,608.5 503.4,613.0" fill="none" stroke="#262626" stroke-width="1" stroke-linejoin="round" />
<text x="503.4" y="627.0" font-size="12.00" text-anchor="middle" fill="#1a1a1a" >0.001</text>
<polyline points="588.2,608.5 588.2,613.0" fill="none" stroke="#262626" stroke-width="1" stroke-linejoin="round" />
<text x="588.2" y="627.0" font-size="12.00" text-anchor="middle" fill="#1a1a1a" >0.01</text>
<polyline points="673.2,608.5 673.2,613.0" fill="none" stroke="#262626" stroke-width="1" stroke-linejoin="round" />
<text x="673.2" y="627.0" font-size="12.00" text-anchor="middle" fill="#1a1a1a" >0.1</text>
<polyline points="757.8,608.5 757.8,613.0" fill="none" stroke="#262626" stroke-width="1" stroke-linejoin="round" />
<text x="757.8" y="627.0" font-size="12.00" text-anchor="middle" fill="#1a1a1a" >1</text>
<text transform="translate(466.0 506.9) rotate(-90)" font-size="12.80" text-anchor="middle" fill="#1a1a1a">Lg Concentration / mol·L<tspan dy="-3.97" font-size="8.45">-1</tspan><tspan dy="3.97" font-size="12.80">&#8203;</tspan></text>
<text x="641.0" y="647.0" font-size="12.70" text-anchor="middle" fill="#1a1a1a" >0.5 Ca<tspan dy="-3.94" font-size="8.38">2+</tspan><tspan dy="3.94" font-size="12.70">&#8203;</tspan> replaced by 0.5 Mg<tspan dy="-3.94" font-size="8.38">2+</tspan><tspan dy="3.94" font-size="12.70">&#8203;</tspan><tspan dx="2.5">&#8203;</tspan> / mol</text>
<text x="825.6" y="654.0" font-size="11.50" text-anchor="middle" fill="#6e6e6e" font-family="DejaVu Sans, sans-serif">↵</text>
<polygon points="84.6,805.5 209.0,805.5 230.0,805.6 255.0,806.5 280.0,808.8 305.0,813.8 317.5,818.8 326.3,823.8 342.5,828.8 360.0,837.5 372.5,846.3 382.5,856.3 388.8,866.3 391.4,880.0 391.4,938.3 84.6,938.3" fill="url(#hl)" stroke="none" stroke-width="1" />
<polygon points="84.6,821.3 326.3,824.5 342.5,828.8 360.0,837.5 372.5,846.3 382.5,856.3 388.8,866.3 391.4,880.0 391.4,938.3 84.6,938.3" fill="#fff" stroke="none" stroke-width="1" />
<polygon points="84.6,821.3 234.0,821.8 280.0,823.0 305.0,824.2 326.3,826.3 342.5,832.3 360.0,840.8 372.5,849.3 382.5,859.0 388.8,869.0 391.4,881.5 391.4,938.3 84.6,938.3" fill="url(#ck)" stroke="none" stroke-width="1" />
<polygon points="84.6,830.0 234.0,830.0 255.0,830.6 280.0,832.5 305.0,836.6 316.9,838.7 330.0,841.0 340.0,843.5 350.0,848.0 365.0,857.5 377.5,867.5 386.3,877.5 391.4,883.5 391.4,938.3 84.6,938.3" fill="url(#vl)" stroke="none" stroke-width="1" />
<polygon points="84.6,857.0 209.0,858.0 255.0,858.8 280.0,860.0 305.0,862.5 330.0,866.3 350.0,872.5 365.0,877.5 377.5,883.3 380.0,884.8 391.4,884.8 391.4,938.3 84.6,938.3" fill="#000" stroke="none" stroke-width="1" />
<polygon points="84.6,859.8 209.0,860.8 255.0,861.8 280.0,863.0 305.0,865.5 330.0,869.3 350.0,875.3 365.0,880.3 375.0,884.8 391.4,884.8 391.4,938.3 84.6,938.3" fill="url(#gr)" stroke="none" stroke-width="1" />
<polygon points="84.6,859.8 184.0,860.2 234.0,862.2 255.0,863.2 280.0,866.3 305.0,871.3 317.5,874.0 330.0,878.8 338.3,883.4 346.7,890.0 355.0,897.5 363.4,905.0 371.7,911.3 376.7,915.0 384.2,918.4 391.4,919.8 391.4,938.3 84.6,938.3" fill="#808080" stroke="none" stroke-width="1" />
<rect x="84.6" y="917.6" width="292.9" height="3.9" fill="url(#dg)" stroke="none" stroke-width="1"/>
<polyline points="84.6,917.6 377.5,917.6 377.5,920.3" fill="none" stroke="#555" stroke-width="0.8" stroke-linejoin="round" />
<polyline points="377.5,920.7 391.4,920.7" fill="none" stroke="#ddd" stroke-width="1" stroke-dasharray="1.5 1.2" stroke-linejoin="round" />
<rect x="84.6" y="921.5" width="307.3" height="16.8" fill="#000" stroke="none" stroke-width="1"/>
<polyline points="84.6,821.3 234.0,821.8 280.0,823.0 305.0,824.2 326.3,826.3 342.5,832.3 360.0,840.8 372.5,849.3 382.5,859.0 388.8,869.0 391.4,881.5" fill="none" stroke="#000" stroke-width="1.0" stroke-linejoin="round" />
<polyline points="84.6,830.0 234.0,830.0 255.0,830.6 280.0,832.5 305.0,836.6 316.9,838.7 330.0,841.0 340.0,843.5 350.0,848.0 365.0,857.5 377.5,867.5 386.3,877.5 391.4,883.5" fill="none" stroke="#000" stroke-width="1.3" stroke-linejoin="round" />
<polyline points="84.6,831.6 209.0,831.6 255.0,832.4 280.0,834.3 305.0,838.1 330.0,843.1 350.0,850.6 365.0,859.3 377.5,869.3" fill="none" stroke="#000" stroke-width="0.8" stroke-dasharray="4.2 2.2" stroke-linejoin="round" />
<polyline points="85.6,858.4 183.0,859.2" fill="none" stroke="#fff" stroke-width="0.9" stroke-dasharray="4.4 2.6" stroke-linejoin="round" />
<polyline points="183.0,859.2 255.0,860.3 268.0,860.9" fill="none" stroke="#fff" stroke-width="1.2" stroke-dasharray="3.5 3.5" stroke-linejoin="round" />
<polyline points="84.6,859.8 184.0,860.2 234.0,862.2 255.0,863.2 280.0,866.3 305.0,871.3 317.5,874.0 330.0,878.8 338.3,883.4 346.7,890.0 355.0,897.5 363.4,905.0 371.7,911.3 376.7,915.0 384.2,918.4 391.4,919.8" fill="none" stroke="#000" stroke-width="0.9" stroke-linejoin="round" />
<polyline points="376.5,884.8 391.4,884.8" fill="none" stroke="#000" stroke-width="0.9" stroke-linejoin="round" />
<polyline points="84.6,805.5 209.0,805.5 230.0,805.6 255.0,806.5 280.0,808.8 305.0,813.8 317.5,818.8 326.3,823.8 342.5,828.8 360.0,837.5 372.5,846.3 382.5,856.3 388.8,866.3 391.4,880.0" fill="none" stroke="#000" stroke-width="1.1" stroke-linejoin="round" />
<polyline points="360.0,836.0 372.5,844.6 382.5,854.3 388.8,864.3 391.4,876.0" fill="none" stroke="#000" stroke-width="0.7" stroke-linejoin="round" />
<polyline points="84.6,732.4 391.4,732.4 391.4,805.0" fill="none" stroke="#444" stroke-width="1.2" stroke-linejoin="round" />
<polyline points="391.4,827.5 391.4,938.3" fill="none" stroke="#444" stroke-width="1.2" stroke-linejoin="round" />
<polyline points="84.6,731.7 84.6,938.8" fill="none" stroke="#000" stroke-width="1.3" stroke-linejoin="round" />
<rect x="123.3" y="818.6" width="24.5" height="15.0" fill="#fff" stroke="none" stroke-width="1"/>
<text x="135.6" y="830.7" font-size="13.00" text-anchor="middle" fill="#1a1a1a" >Mc</text>
<rect x="210.3" y="842.5" width="31.7" height="13.8" fill="#fff" stroke="none" stroke-width="1"/>
<text x="226.2" y="854.1" font-size="13.00" text-anchor="middle" fill="#1a1a1a" >CH</text>
<rect x="199.8" y="887.0" width="45.5" height="15.0" fill="#fff" stroke="none" stroke-width="1"/>
<text x="222.6" y="899.2" font-size="13.00" text-anchor="middle" fill="#1a1a1a" >CSH</text>
<text x="103.3" y="880.5" font-size="13.00" text-anchor="middle" fill="#f0f0f0" >Cc</text>
<line x1="104.8" y1="872.0" x2="104.8" y2="863.1" stroke="#fff" stroke-width="1.4"/>
<polygon points="104.8,858.6 107.8,864.1 101.8,864.1" fill="#fff" stroke="none" stroke-width="1" />
<text x="113.0" y="902.0" font-size="13.00" text-anchor="middle" fill="#f0f0f0" >Fe-Hg</text>
<line x1="104.3" y1="906.5" x2="104.3" y2="915.5" stroke="#fff" stroke-width="1.4"/>
<polygon points="104.3,920.0 101.3,914.5 107.3,914.5" fill="#fff" stroke="none" stroke-width="1" />
<text x="235.3" y="933.0" font-size="13.00" text-anchor="middle" fill="#fff" >Unreacted clinker</text>
<text x="102.8" y="764.4" font-size="13.00" text-anchor="start" fill="#1a1a1a" >Degradation process</text>
<line x1="94.5" y1="745.8" x2="145.5" y2="745.8" stroke="#000" stroke-width="1.6"/>
<polygon points="151.5,745.8 144.5,749.1 144.5,742.5" fill="#000" stroke="none" stroke-width="1" />
<text x="247.0" y="795.8" font-size="13.00" text-anchor="middle" fill="#1a1a1a" >Ett</text>
<line x1="246.5" y1="798.8" x2="246.5" y2="811.3" stroke="#000" stroke-width="1.5"/>
<polygon points="246.5,816.8 243.3,810.3 249.7,810.3" fill="#000" stroke="none" stroke-width="1" />
<text x="360.0" y="821.3" font-size="13.00" text-anchor="start" fill="#1a1a1a" >Na<tspan dy="2.47" font-size="8.58">2</tspan><tspan dy="-2.47" font-size="13.00">&#8203;</tspan>SO<tspan dy="2.47" font-size="8.58">4</tspan><tspan dy="-2.47" font-size="13.00">&#8203;</tspan></text>
<line x1="366.8" y1="824.5" x2="366.8" y2="836.3" stroke="#000" stroke-width="1.5"/>
<polygon points="366.8,841.8 363.6,835.3 370.0,835.3" fill="#000" stroke="none" stroke-width="1" />
<text x="396.3" y="863.8" font-size="13.00" text-anchor="start" fill="#1a1a1a" >C<tspan dy="2.47" font-size="8.58">3</tspan><tspan dy="-2.47" font-size="13.00">&#8203;</tspan>AH<tspan dy="2.47" font-size="8.58">6</tspan><tspan dy="-2.47" font-size="13.00">&#8203;</tspan></text>
<line x1="408.0" y1="870.0" x2="393.0" y2="870.0" stroke="#000" stroke-width="1.5"/>
<polygon points="387.5,870.0 394.0,866.8 394.0,873.2" fill="#000" stroke="none" stroke-width="1" />
<rect x="359.0" y="889.5" width="26.3" height="11.0" fill="#fff" stroke="none" stroke-width="1"/>
<text x="359.3" y="900.0" font-size="13.00" text-anchor="start" fill="#1a1a1a" >NSH</text>
<text x="408.8" y="922.6" font-size="13.00" text-anchor="start" fill="#1a1a1a" >FH<tspan dy="2.47" font-size="8.58">3</tspan><tspan dy="-2.47" font-size="13.00">&#8203;</tspan></text>
<line x1="402.5" y1="919.5" x2="393.0" y2="919.5" stroke="#000" stroke-width="1.5"/>
<polygon points="387.5,919.5 394.0,916.3 394.0,922.7" fill="#000" stroke="none" stroke-width="1" />
<text x="87.5" y="691.2" font-size="12.60" text-anchor="middle" fill="#1a1a1a" >Before degradation</text>
<text x="87.5" y="705.3" font-size="12.60" text-anchor="middle" fill="#1a1a1a" >/ Inner part</text>
<line x1="84.7" y1="710.5" x2="84.7" y2="724.8" stroke="#000" stroke-width="1.5"/>
<polygon points="84.7,729.8 81.7,723.8 87.7,723.8" fill="#000" stroke="none" stroke-width="1" />
<polygon points="179.5,721.0 207.5,716.3 207.5,725.7" fill="#a6a6a6" stroke="none" stroke-width="1" />
<rect x="207.0" y="718.8" width="76.5" height="4.4" fill="#a6a6a6" stroke="none" stroke-width="1"/>
<rect x="285.8" y="718.8" width="61.7" height="4.4" fill="#7f7f7f" stroke="none" stroke-width="1"/>
<rect x="349.8" y="718.8" width="35.5" height="4.4" fill="#404040" stroke="none" stroke-width="1"/>
<text x="264.0" y="699.4" font-size="12.60" text-anchor="middle" fill="#1a1a1a" >too shallow to</text>
<text x="264.0" y="713.0" font-size="12.60" text-anchor="middle" fill="#1a1a1a" >be observed</text>
<text x="344.0" y="713.5" font-size="12.60" text-anchor="middle" fill="#1a1a1a" >~0.1 mm</text>
<text x="384.0" y="713.3" font-size="12.60" text-anchor="middle" fill="#1a1a1a" >0</text>
<rect x="404.0" y="718.9" width="31.3" height="31.3" fill="#fff" stroke="#000" stroke-width="1.5"/>
<text x="419.9" y="741.9" font-size="18.00" text-anchor="middle" fill="#000" >(e)</text>
<polyline points="80.6,732.2 84.6,732.2" fill="none" stroke="#000" stroke-width="1" stroke-linejoin="round" />
<text x="73.3" y="736.5" font-size="12.00" text-anchor="end" fill="#1a1a1a" >90</text>
<polyline points="80.6,800.9 84.6,800.9" fill="none" stroke="#000" stroke-width="1" stroke-linejoin="round" />
<text x="73.3" y="805.2" font-size="12.00" text-anchor="end" fill="#1a1a1a" >60</text>
<polyline points="80.6,869.6 84.6,869.6" fill="none" stroke="#000" stroke-width="1" stroke-linejoin="round" />
<text x="73.3" y="873.9" font-size="12.00" text-anchor="end" fill="#1a1a1a" >30</text>
<polyline points="80.6,938.3 84.6,938.3" fill="none" stroke="#000" stroke-width="1" stroke-linejoin="round" />
<text x="73.3" y="942.6" font-size="12.00" text-anchor="end" fill="#1a1a1a" >0</text>
<polyline points="85.3,938.3 85.3,942.8" fill="none" stroke="#000" stroke-width="1" stroke-linejoin="round" />
<text x="85.3" y="956.7" font-size="12.00" text-anchor="middle" fill="#1a1a1a" >0.001</text>
<polyline points="178.9,938.3 178.9,942.8" fill="none" stroke="#000" stroke-width="1" stroke-linejoin="round" />
<text x="178.9" y="956.7" font-size="12.00" text-anchor="middle" fill="#1a1a1a" >0.01</text>
<polyline points="272.5,938.3 272.5,942.8" fill="none" stroke="#000" stroke-width="1" stroke-linejoin="round" />
<text x="272.5" y="956.7" font-size="12.00" text-anchor="middle" fill="#1a1a1a" >0.1</text>
<polyline points="366.3,938.3 366.3,942.8" fill="none" stroke="#000" stroke-width="1" stroke-linejoin="round" />
<text x="366.3" y="956.7" font-size="12.00" text-anchor="middle" fill="#1a1a1a" >1</text>
<text transform="translate(51.6 836.2) rotate(-90)" font-size="12.85" text-anchor="middle" fill="#1a1a1a">Volume / cm<tspan dy="-3.98" font-size="8.48">3</tspan><tspan dy="3.98" font-size="12.85">&#8203;</tspan> per 100 g cement</text>
<text x="231.6" y="975.2" font-size="12.85" text-anchor="middle" fill="#1a1a1a" >0.5 Ca<tspan dy="-3.98" font-size="8.48">2+</tspan><tspan dy="3.98" font-size="12.85">&#8203;</tspan> replaced by Na<tspan dy="-3.98" font-size="8.48">+</tspan><tspan dy="3.98" font-size="12.85">&#8203;</tspan> / mol</text>
<polyline points="503.6,809.3 525.0,810.5 550.0,815.0 575.0,821.3 600.0,829.5 625.0,837.5 650.0,846.3 675.0,855.0 695.0,861.3 709.8,865.5 725.3,869.3 741.5,877.5 761.5,890.0 776.5,902.5 784.5,909.5" fill="none" stroke="#00b050" stroke-width="1.3" stroke-dasharray="1.5 2.1" stroke-linejoin="round" />
<polyline points="503.6,876.3 525.0,875.5 550.0,873.0 575.0,868.8 600.0,863.0 625.0,857.0 650.0,851.3 675.0,846.3 695.0,843.0 709.8,841.3 725.3,838.8 741.5,833.8 756.5,826.3 765.3,816.3 774.0,801.3 779.0,791.3 784.5,785.0" fill="none" stroke="#0070c0" stroke-width="1.5" stroke-dasharray="4.6 2.4" stroke-linejoin="round" />
<polyline points="503.6,801.3 525.0,800.5 550.0,797.5 575.0,793.0 600.0,787.5 625.0,782.0 650.0,777.0 675.0,773.0 695.0,770.8 709.8,770.0 725.3,769.3 741.5,766.8 761.5,762.5 776.5,758.8 784.5,759.3" fill="none" stroke="#000" stroke-width="1.8" stroke-linejoin="round" />
<polyline points="503.6,818.8 525.0,811.3 550.0,803.0 575.0,795.0 600.0,788.0 625.0,782.0 650.0,777.0 675.0,772.5 695.0,768.8 709.8,766.8 729.0,765.0 754.0,761.3 776.5,758.0 784.5,757.0" fill="none" stroke="#7030a0" stroke-width="1.7" stroke-dasharray="13.3 5.6 2 5.3" stroke-linejoin="round" />
<polyline points="503.6,869.5 525.0,868.0 550.0,862.5 575.0,853.8 600.0,842.5 625.0,828.8 650.0,815.0 675.0,801.3 695.0,792.5 709.8,787.5 725.3,783.8 739.0,785.5 754.0,791.3 769.0,800.0 779.0,806.3 784.5,813.8" fill="none" stroke="#c00000" stroke-width="1.7" stroke-dasharray="12.9 6.3" stroke-linejoin="round" />
<polyline points="543.8,887.0 589.5,887.0" fill="none" stroke="#000" stroke-width="1.8" stroke-linejoin="round" />
<text x="597.5" y="891.5" font-size="12.60" text-anchor="start" fill="#1a1a1a" >OH<tspan dy="-3.91" font-size="8.32">-</tspan><tspan dy="3.91" font-size="12.60">&#8203;</tspan></text>
<polyline points="543.8,905.8 589.5,905.8" fill="none" stroke="#00b050" stroke-width="1.3" stroke-dasharray="1.5 2.1" stroke-linejoin="round" />
<text x="599.0" y="910.6" font-size="12.60" text-anchor="start" fill="#1a1a1a" >Ca<tspan dy="-3.91" font-size="8.32">2+</tspan><tspan dy="3.91" font-size="12.60">&#8203;</tspan></text>
<polyline points="543.8,925.0 589.5,925.0" fill="none" stroke="#c00000" stroke-width="1.7" stroke-dasharray="12.9 6.3" stroke-linejoin="round" />
<text x="599.0" y="929.0" font-size="12.60" text-anchor="start" fill="#1a1a1a" >SO<tspan dy="2.39" font-size="8.32">4</tspan><tspan dy="-2.39" font-size="12.60">&#8203;</tspan><tspan dy="-3.91" font-size="8.32">2-</tspan><tspan dy="3.91" font-size="12.60">&#8203;</tspan></text>
<polyline points="635.3,887.0 681.5,887.0" fill="none" stroke="#0070c0" stroke-width="1.5" stroke-dasharray="4.6 2.4" stroke-linejoin="round" />
<text x="686.5" y="892.0" font-size="12.60" text-anchor="start" fill="#1a1a1a" >AlO<tspan dy="2.39" font-size="8.32">2</tspan><tspan dy="-2.39" font-size="12.60">&#8203;</tspan><tspan dy="-3.91" font-size="8.32">-</tspan><tspan dy="3.91" font-size="12.60">&#8203;</tspan></text>
<polyline points="635.3,905.8 681.5,905.8" fill="none" stroke="#7030a0" stroke-width="1.7" stroke-dasharray="13.3 5.6 2 5.3" stroke-linejoin="round" />
<text x="686.5" y="911.3" font-size="12.60" text-anchor="start" fill="#1a1a1a" >Na<tspan dy="-3.91" font-size="8.32">+</tspan><tspan dy="3.91" font-size="12.60">&#8203;</tspan></text>
<rect x="789.8" y="719.7" width="31.3" height="31.5" fill="#fff" stroke="#000" stroke-width="1.5"/>
<text x="805.8" y="742.9" font-size="18.00" text-anchor="middle" fill="#000" >(f)</text>
<polyline points="503.6,731.6 785.2,731.6 785.2,935.4 503.6,935.4 503.6,731.6 785.2,731.6" fill="none" stroke="#2a2a2a" stroke-width="1.2" stroke-linejoin="round" />
<polyline points="499.1,731.6 503.6,731.6" fill="none" stroke="#262626" stroke-width="1" stroke-linejoin="round" />
<text x="492.4" y="735.9" font-size="12.00" text-anchor="end" fill="#1a1a1a" >2</text>
<polyline points="499.1,772.4 503.6,772.4" fill="none" stroke="#262626" stroke-width="1" stroke-linejoin="round" />
<text x="492.4" y="776.7" font-size="12.00" text-anchor="end" fill="#1a1a1a" >0</text>
<polyline points="499.1,813.2 503.6,813.2" fill="none" stroke="#262626" stroke-width="1" stroke-linejoin="round" />
<text x="492.4" y="817.5" font-size="12.00" text-anchor="end" fill="#1a1a1a" >-2</text>
<polyline points="499.1,853.9 503.6,853.9" fill="none" stroke="#262626" stroke-width="1" stroke-linejoin="round" />
<text x="492.4" y="858.2" font-size="12.00" text-anchor="end" fill="#1a1a1a" >-4</text>
<polyline points="499.1,894.6 503.6,894.6" fill="none" stroke="#262626" stroke-width="1" stroke-linejoin="round" />
<text x="492.4" y="898.9" font-size="12.00" text-anchor="end" fill="#1a1a1a" >-6</text>
<polyline points="499.1,935.4 503.6,935.4" fill="none" stroke="#262626" stroke-width="1" stroke-linejoin="round" />
<text x="492.4" y="939.7" font-size="12.00" text-anchor="end" fill="#1a1a1a" >-8</text>
<polyline points="503.6,935.4 503.6,939.9" fill="none" stroke="#262626" stroke-width="1" stroke-linejoin="round" />
<text x="503.6" y="953.4" font-size="12.00" text-anchor="middle" fill="#1a1a1a" >0.001</text>
<polyline points="590.0,935.4 590.0,939.9" fill="none" stroke="#262626" stroke-width="1" stroke-linejoin="round" />
<text x="590.0" y="953.4" font-size="12.00" text-anchor="middle" fill="#1a1a1a" >0.01</text>
<polyline points="675.2,935.4 675.2,939.9" fill="none" stroke="#262626" stroke-width="1" stroke-linejoin="round" />
<text x="675.2" y="953.4" font-size="12.00" text-anchor="middle" fill="#1a1a1a" >0.1</text>
<polyline points="760.8,935.4 760.8,939.9" fill="none" stroke="#262626" stroke-width="1" stroke-linejoin="round" />
<text x="760.8" y="953.4" font-size="12.00" text-anchor="middle" fill="#1a1a1a" >1</text>
<text transform="translate(473.3 834.0) rotate(-90)" font-size="12.80" text-anchor="middle" fill="#1a1a1a">Lg Concentration / mol·L<tspan dy="-3.97" font-size="8.45">-1</tspan><tspan dy="3.97" font-size="12.80">&#8203;</tspan></text>
<text x="644.3" y="973.9" font-size="12.85" text-anchor="middle" fill="#1a1a1a" >0.5 Ca<tspan dy="-3.98" font-size="8.48">2+</tspan><tspan dy="3.98" font-size="12.85">&#8203;</tspan> replaced by Na<tspan dy="-3.98" font-size="8.48">+</tspan><tspan dy="3.98" font-size="12.85">&#8203;</tspan> / mol</text>
<text x="825.6" y="981.4" font-size="11.50" text-anchor="middle" fill="#6e6e6e" font-family="DejaVu Sans, sans-serif">↵</text>
</svg>
</body></html>
